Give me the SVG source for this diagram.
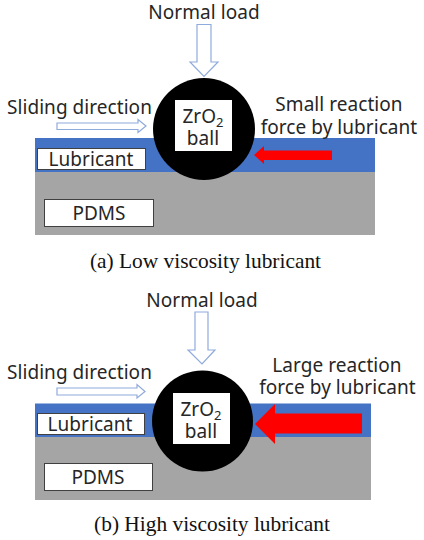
<svg xmlns="http://www.w3.org/2000/svg" width="424" height="540" viewBox="0 0 424 540">
<style>
.t{font-family:"Noto Sans","Open Sans",sans-serif;font-size:19px;letter-spacing:.05px;fill:#262626;text-anchor:middle}
.c{font-family:"Liberation Serif",serif;font-size:21.4px;fill:#111;text-anchor:middle}
.box{fill:#fff;stroke:#404040;stroke-width:1}
.blue{fill:#4472c4}
.gray{fill:#a5a5a5}
.ball{fill:#000}
.out{fill:#fff;stroke:#8faadc;stroke-width:1.2}
.red{fill:#f00}
.wb{fill:#fff}
</style>
<rect width="424" height="540" fill="#fff"/>
<g id="panel-a">
<g id="a-lubricant-layer"><rect class="blue" x="35" y="138" width="340" height="34"/></g>
<g id="a-pdms-layer"><rect class="gray" x="35" y="172" width="340" height="63"/></g>
<g id="a-ball"><circle class="ball" cx="204" cy="129" r="51"/><rect class="wb" x="175" y="100" width="57" height="51"/>
<text class="t" x="203" y="123">ZrO<tspan font-size="13" dy="4">2</tspan></text><text class="t" x="203" y="144.500">ball</text></g>
<g id="a-lubricant-label"><rect class="box" x="37.500" y="148.500" width="108" height="21"/><text class="t" x="91" y="166">Lubricant</text></g>
<g id="a-pdms-label"><rect class="box" x="44.500" y="199.500" width="109" height="27"/><text class="t" x="99" y="220">PDMS</text></g>
<g id="a-connectors">
<path class="out" d="M197 24.500H211V62H218L204 76.500L190 62H197Z"/>
<path class="out" d="M57 123H138V119.500L146 126L138 132.500V129.500H57Z"/>
<path class="red" d="M254 155L264 146V150.500H332V160H264V164Z"/>
</g>
<text class="t" x="204" y="18.500">Normal load</text>
<text class="t" x="79.500" y="114">Sliding direction</text>
<text class="t" x="339" y="111">Small reaction</text>
<text class="t" x="339" y="133.500">force by lubricant</text>
<text class="c" x="205.500" y="268">(a) Low viscosity lubricant</text>
</g>
<g id="panel-b">
<g id="b-lubricant-layer"><rect class="blue" x="35" y="403.500" width="336" height="34"/></g>
<g id="b-pdms-layer"><rect class="gray" x="35" y="437" width="336" height="63"/></g>
<g id="b-ball"><circle class="ball" cx="202.500" cy="421" r="50.500"/><rect class="wb" x="173" y="393" width="57" height="51"/>
<text class="t" x="201" y="416">ZrO<tspan font-size="13" dy="4">2</tspan></text><text class="t" x="201" y="437.500">ball</text></g>
<g id="b-lubricant-label"><rect class="box" x="37.500" y="413.500" width="107" height="21"/><text class="t" x="90" y="431">Lubricant</text></g>
<g id="b-pdms-label"><rect class="box" x="44.500" y="463.500" width="108" height="27"/><text class="t" x="98" y="484">PDMS</text></g>
<g id="b-connectors">
<path class="out" d="M195 312H208V350H215L202 364L188 350H195Z"/>
<path class="out" d="M57 388H137V384.500L145 391.500L137 398V395H57Z"/>
<path class="red" d="M255 424L275 404V413.500H362V433.500H275V444Z"/>
</g>
<text class="t" x="202" y="307">Normal load</text>
<text class="t" x="79.500" y="379">Sliding direction</text>
<text class="t" x="337" y="372">Large reaction</text>
<text class="t" x="337.500" y="394">force by lubricant</text>
<text class="c" x="212" y="531">(b) High viscosity lubricant</text>
</g>
</svg>
